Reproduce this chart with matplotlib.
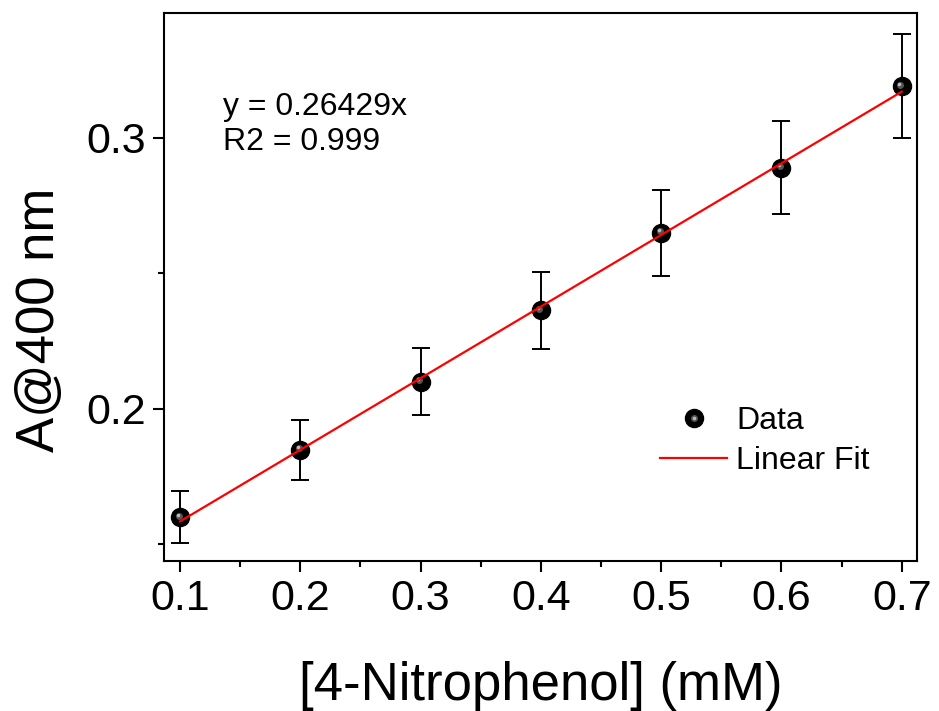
import numpy as np
import matplotlib.pyplot as plt
from matplotlib.lines import Line2D
from matplotlib.legend_handler import HandlerTuple
import matplotlib.transforms as mtransforms

# [4-Nitrophenol] in mM and absorbance at 400 nm
conc = [0.1, 0.2, 0.3, 0.4, 0.5, 0.6, 0.7]
absorb = [0.160, 0.185, 0.210, 0.2365, 0.265, 0.289, 0.319]
absorb_err = [0.0096, 0.0111, 0.0124, 0.0142, 0.0159, 0.0172, 0.0192]

plt.rcParams['font.family'] = ['Liberation Sans', 'DejaVu Sans']

fig = plt.figure(figsize=(9.39, 7.11), dpi=100)
ax = fig.add_axes([0.1747, 0.211, 0.8019, 0.7707])

ax.errorbar(conc, absorb, yerr=absorb_err, fmt='none', ecolor='black',
            elinewidth=1.4, capsize=6.5, capthick=1.4, zorder=2)

# shaded "ball" markers
ax.plot(conc, absorb, 'o', ms=13, color='black', zorder=3)
off1 = mtransforms.ScaledTranslation(-1.5 / 100, 1.5 / 100, fig.dpi_scale_trans)
off2 = mtransforms.ScaledTranslation(-2.5 / 100, 2.5 / 100, fig.dpi_scale_trans)
ax.plot(conc, absorb, 'o', ms=5, color='#555555', mew=0, zorder=3,
        transform=ax.transData + off1)
ax.plot(conc, absorb, 'o', ms=2.5, color='#bdbdbd', mew=0, zorder=3,
        transform=ax.transData + off2)

# linear fit drawn on top
slope, icpt = np.polyfit(conc, absorb, 1)
xf = np.array([min(conc), max(conc)])
ax.plot(xf, slope * xf + icpt, color='red', lw=1.6, zorder=4)

ax.set_xlim(0.0867, 0.7127)
ax.set_ylim(0.1439, 0.3461)
ax.set_xticks([0.1, 0.2, 0.3, 0.4, 0.5, 0.6, 0.7])
ax.set_xticks([0.15, 0.25, 0.35, 0.45, 0.55, 0.65], minor=True)
ax.set_yticks([0.2, 0.3])
ax.set_yticks([0.15, 0.25], minor=True)
ax.set_xticklabels(['0.1', '0.2', '0.3', '0.4', '0.5', '0.6', '0.7'])
ax.set_yticklabels(['0.2', '0.3'])

for s in ax.spines.values():
    s.set_linewidth(1.5)
ax.tick_params(which='major', direction='out', length=8, width=1.5,
               labelsize=31, pad=5)
ax.tick_params(which='minor', direction='out', length=4, width=1.5)

ax.set_xlabel('[4-Nitrophenol] (mM)', fontsize=38, labelpad=30)
ax.set_ylabel('A@400 nm', fontsize=38)
ax.yaxis.set_label_coords(-0.131, 0.44)

ax.text(0.078, 0.855, 'y = 0.26429x\nR2 = 0.999', transform=ax.transAxes,
        fontsize=23, va='top', ha='left', linespacing=1.2)

h_ball = (Line2D([], [], ls='none', marker='o', ms=13, color='black'),
          Line2D([], [], ls='none', marker='o', ms=5, color='#555555', mew=0),
          Line2D([], [], ls='none', marker='o', ms=2.5, color='#bdbdbd', mew=0))
h_fit = Line2D([], [], color='red', lw=1.6)
ax.legend([h_ball, h_fit], ['Data', 'Linear Fit'], loc='upper left',
          bbox_to_anchor=(0.659, 0.283), frameon=False, fontsize=23,
          handlelength=2.1, handletextpad=0.28, labelspacing=0.32,
          borderpad=0, borderaxespad=0,
          handler_map={tuple: HandlerTuple(ndivide=1)})

fig.savefig('out.png', dpi=100)
